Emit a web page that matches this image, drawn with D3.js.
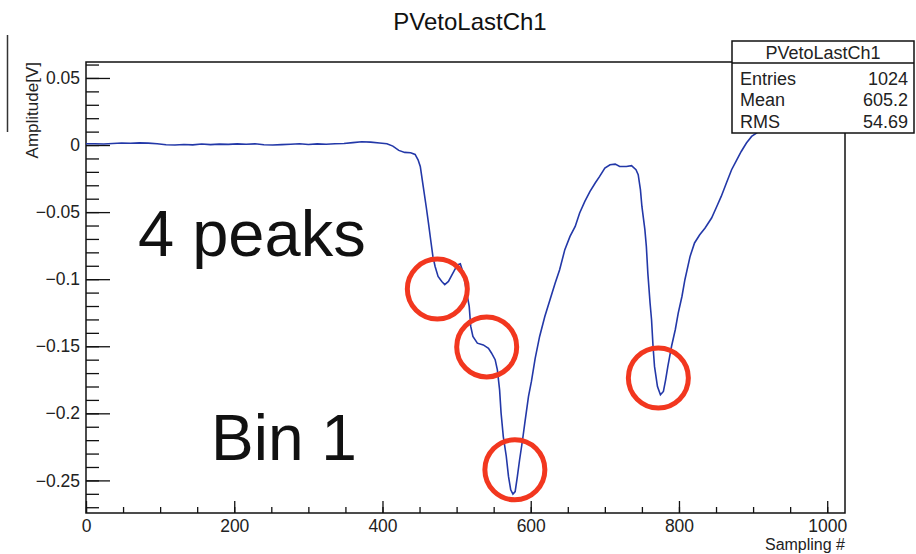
<!DOCTYPE html>
<html>
<head>
  <meta charset="utf-8">
  <script src="https://d3js.org/d3.v7.min.js"></script>
  <style>
    body { margin: 0; background: #fff; }
    text { font-family: "Liberation Sans", Arial, sans-serif; }
  </style>
</head>
<body>
<script>
// waveform: sample number and amplitude [V]
var sampleIdx = [0, 12, 24, 36, 48, 60, 72, 84, 96, 108, 120, 132, 144, 156, 168, 180, 192, 204, 216, 228,
  240, 252, 264, 276, 288, 300, 312, 324, 336, 348, 360, 372, 384, 396, 406, 414, 422, 430, 438, 444,
  448, 451, 455, 459, 462, 465, 468, 471, 475, 480, 484, 489, 495, 501, 505, 509, 513, 517, 519, 522,
  528, 536, 543, 547, 552, 555, 558, 560, 563, 567, 570, 573, 576, 579, 582, 585, 589, 592, 597, 601,
  606, 612, 619, 626, 633, 639, 646, 653, 660, 666, 673, 680, 687, 693, 700, 707, 714, 720, 729, 736,
  742, 745, 748, 750, 754, 756, 758, 761, 763, 765, 767, 771, 775, 779, 782, 785, 790, 795, 799, 804,
  808, 815, 821, 828, 835, 844, 851, 857, 864, 871, 878, 884, 891, 898, 905, 915, 930, 960, 1000, 1023];
var amplitude = [0.0010, 0.0010, 0.0008, 0.0012, 0.0015, 0.0013, 0.0016, 0.0014, 0.0010, 0.0002,
  0.0000, 0.0004, 0.0001, 0.0008, 0.0003, 0.0007, 0.0005, 0.0009, 0.0006, 0.0009,
  0.0002, 0.0000, 0.0003, 0.0006, 0.0010, 0.0004, 0.0009, 0.0006, 0.0010, 0.0012,
  0.0018, 0.0024, 0.0022, 0.0015, 0.0010, -0.0008, -0.0040, -0.0055, -0.0058, -0.0070,
  -0.0110, -0.0160, -0.0310, -0.0460, -0.0580, -0.0706, -0.0830, -0.0905, -0.0980, -0.1017,
  -0.1040, -0.1017, -0.0955, -0.0893, -0.0885, -0.0955, -0.1080, -0.1203, -0.1350, -0.1427,
  -0.1477, -0.1490, -0.1515, -0.1550, -0.1600, -0.1676, -0.1825, -0.1998, -0.2173, -0.2320,
  -0.2470, -0.2570, -0.2602, -0.2583, -0.2470, -0.2346, -0.2197, -0.2073, -0.1874, -0.1760,
  -0.1590, -0.1427, -0.1278, -0.1153, -0.1029, -0.0930, -0.0780, -0.0681, -0.0607, -0.0507,
  -0.0420, -0.0346, -0.0283, -0.0234, -0.0172, -0.0147, -0.0142, -0.0160, -0.0160, -0.0154,
  -0.0184, -0.0221, -0.0333, -0.0458, -0.0631, -0.0756, -0.0955, -0.1178, -0.1302, -0.1500,
  -0.1650, -0.1800, -0.1862, -0.1837, -0.1750, -0.1650, -0.1500, -0.1377, -0.1253, -0.1129,
  -0.1004, -0.0830, -0.0730, -0.0669, -0.0620, -0.0544, -0.0458, -0.0383, -0.0283, -0.0184,
  -0.0110, -0.0048, 0.0015, 0.0064, 0.0090, 0.0140, 0.0190, 0.0240, 0.0270, 0.0280];

// red circles drawn on top (sample, amplitude)
var markSample = [474, 540.6, 578.6, 772.2];
var markAmp = [-0.1074, -0.1505, -0.2421, -0.1737];

var xTicks = [0, 200, 400, 600, 800, 1000];
var yTicks = [-0.25, -0.2, -0.15, -0.1, -0.05, 0, 0.05];
var statLabels = ["Entries", "Mean", "RMS"];
var statValues = ["1024", "605.2", "54.69"];

var W = 916, H = 554;
var padL = 86, padR = 845, padT = 62, padB = 513;

var svg = d3.select("body").append("svg")
    .attr("width", W)
    .attr("height", H);

var x = d3.scaleLinear().domain([0, 1024]).range([padL, padR]);
var y = d3.scaleLinear().domain([-0.2743, 0.0619]).range([padB, padT]);

// title
svg.append("text")
  .attr("x", 470).attr("y", 30)
  .attr("text-anchor", "middle")
  .style("font-size", "24px")
  .attr("fill", "#111")
  .text("PVetoLastCh1");

// odd leftover line at top left
svg.append("line")
  .attr("x1", 7.5).attr("x2", 7.5).attr("y1", 35).attr("y2", 132)
  .attr("stroke", "#333").attr("stroke-width", 1.5);

// axes
var fmt = d3.format(".2~f");
var xMinor = d3.range(0, 1024, 50);
var yMinor = d3.range(-27, 7).map(function(d) { return d / 100; });

svg.append("g")
  .attr("transform", "translate(0," + padB + ")")
  .call(d3.axisBottom(x).tickValues(xMinor).tickSizeInner(-6).tickSizeOuter(0).tickFormat(""));
svg.append("g")
  .attr("class", "xaxis")
  .attr("transform", "translate(0," + padB + ")")
  .call(d3.axisBottom(x).tickValues(xTicks).tickSizeInner(-12).tickSizeOuter(0).tickPadding(7)
    .tickFormat(d3.format("d")));

svg.append("g")
  .attr("transform", "translate(" + padL + ",0)")
  .call(d3.axisLeft(y).tickValues(yMinor).tickSizeInner(-13).tickSizeOuter(0).tickFormat(""));
svg.append("g")
  .attr("class", "yaxis")
  .attr("transform", "translate(" + padL + ",0)")
  .call(d3.axisLeft(y).tickValues(yTicks).tickSizeInner(-24).tickSizeOuter(0).tickPadding(6).tickFormat(fmt));

svg.selectAll(".domain").remove();
svg.selectAll(".tick line").attr("stroke", "#111").attr("stroke-width", 1.3);
svg.selectAll(".xaxis text, .yaxis text")
  .style("font-size", "17.5px")
  .style("font-family", "'Liberation Sans', Arial, sans-serif")
  .attr("fill", "#222");

// frame
svg.append("rect")
  .attr("x", padL).attr("y", padT)
  .attr("width", padR - padL).attr("height", padB - padT)
  .attr("fill", "none").attr("stroke", "#111").attr("stroke-width", 1.5);

// axis titles
svg.append("text")
  .attr("x", padR).attr("y", 550)
  .attr("text-anchor", "end")
  .style("font-size", "16px")
  .attr("fill", "#222")
  .text("Sampling #");

svg.append("text")
  .attr("transform", "translate(38," + padT + ") rotate(-90)")
  .attr("text-anchor", "end")
  .style("font-size", "17px")
  .attr("fill", "#222")
  .text("Amplitude[V]");

// waveform
var pts = sampleIdx.map(function(s, i) { return [s, amplitude[i]]; });
var line = d3.line()
  .x(function(d) { return x(d[0]); })
  .y(function(d) { return y(d[1]); });

svg.append("path")
  .datum(pts)
  .attr("d", line)
  .attr("fill", "none")
  .attr("stroke", "#2338a8")
  .attr("stroke-width", 1.6);

// stats box
var bx = 732, by = 41, bw = 182, bh = 92;
svg.append("rect")
  .attr("x", bx).attr("y", by).attr("width", bw).attr("height", bh)
  .attr("fill", "#fff").attr("stroke", "#111").attr("stroke-width", 1.5);
svg.append("line")
  .attr("x1", bx).attr("x2", bx + bw).attr("y1", 63).attr("y2", 63)
  .attr("stroke", "#111").attr("stroke-width", 1.3);
svg.append("text")
  .attr("x", bx + bw / 2).attr("y", 59)
  .attr("text-anchor", "middle")
  .style("font-size", "18px")
  .attr("fill", "#222")
  .text("PVetoLastCh1");

svg.selectAll("text.slabel")
  .data(statLabels)
  .enter()
  .append("text")
  .attr("class", "slabel")
  .attr("x", 740)
  .attr("y", function(d, i) { return 84.5 + i * 21.5; })
  .style("font-size", "18px")
  .attr("fill", "#222")
  .text(function(d) { return d; });

svg.selectAll("text.svalue")
  .data(statValues)
  .enter()
  .append("text")
  .attr("class", "svalue")
  .attr("x", 908)
  .attr("y", function(d, i) { return 84.5 + i * 21.5; })
  .attr("text-anchor", "end")
  .style("font-size", "18px")
  .attr("fill", "#222")
  .text(function(d) { return d; });

// annotations
svg.append("text")
  .attr("x", 138).attr("y", 256)
  .style("font-size", "65px")
  .attr("fill", "#111")
  .text("4 peaks");

svg.append("text")
  .attr("x", 211).attr("y", 460)
  .style("font-size", "64px")
  .attr("fill", "#111")
  .text("Bin 1");

svg.selectAll("circle.mark")
  .data(markSample)
  .enter()
  .append("circle")
  .attr("class", "mark")
  .attr("cx", function(d) { return x(d); })
  .attr("cy", function(d, i) { return y(markAmp[i]); })
  .attr("r", 30)
  .attr("fill", "none")
  .attr("stroke", "#f2371f")
  .attr("stroke-width", 5);
</script>
</body>
</html>
